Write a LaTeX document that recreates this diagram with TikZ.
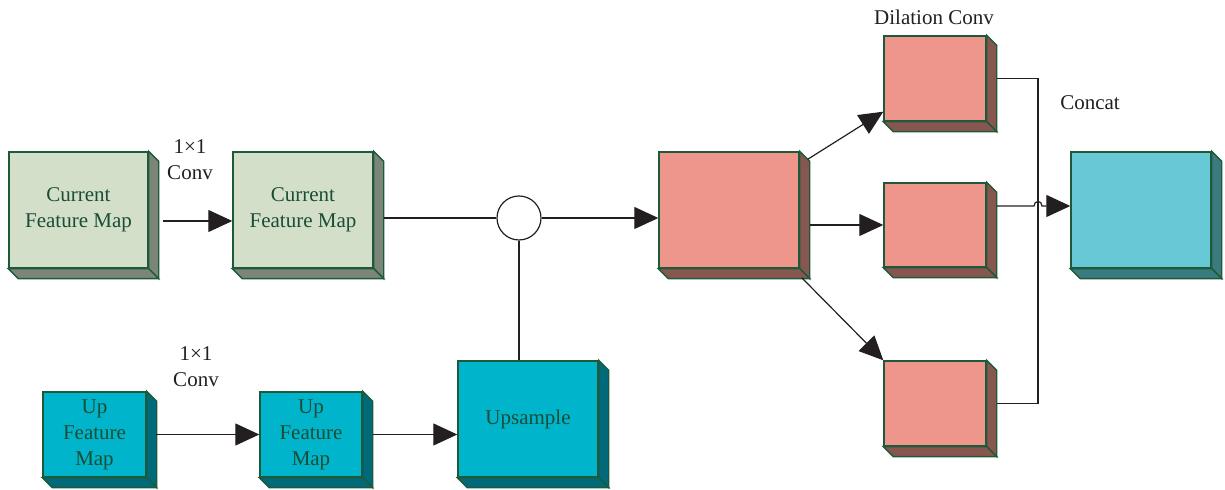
\documentclass[tikz,border=0pt]{standalone}
\usepackage{fontspec}
\setmainfont{Liberation Serif}
\usetikzlibrary{arrows.meta,calc,positioning}

\definecolor{edge}{HTML}{1E5A3A}
\definecolor{boxtext}{HTML}{1A4D35}
\definecolor{ink}{HTML}{231F20}
\definecolor{curfront}{HTML}{D3DFC9}
\definecolor{curside}{HTML}{7B8578}
\definecolor{upfront}{HTML}{00B5CB}
\definecolor{upside}{HTML}{00697A}
\definecolor{dilfront}{HTML}{EE958C}
\definecolor{dilside}{HTML}{87574F}
\definecolor{catfront}{HTML}{68C9D6}
\definecolor{catside}{HTML}{3A7B80}

\begin{document}
\begin{tikzpicture}[x=0.5pt, y=-0.5pt, >={Triangle[length=12pt,width=11pt]},
  font=\fontsize{10.5}{13}\selectfont,
  box/.style={draw=edge, line width=0.7pt, text=boxtext, align=center, inner sep=0pt},
  big/.style={minimum width=70pt, minimum height=58pt},
  small/.style={minimum width=51pt, minimum height=42.5pt},
  lbl/.style={text=ink, align=center, inner sep=0pt},
  wire/.style={draw=ink, line width=0.6pt}]
\newcommand{\cube}[1][]{\node [#1, box]}
\def\dd{10}
\newcommand{\sides}[2]{
  \filldraw [fill=#2, draw=edge, line width=0.7pt] (#1.north east) -- ++(\dd,\dd)
    -- ($(#1.south east)+(\dd,\dd)$) -- (#1.south east) -- cycle;
  \filldraw [fill=#2, draw=edge, line width=0.7pt] (#1.south west) -- (#1.south east)
    -- ++(\dd,\dd) -- ($(#1.south west)+(\dd,\dd)$) -- cycle;
}
\useasboundingbox (0,0) rectangle (1225,490);

% top row
\cube [big, fill=curfront, minimum width=69.5pt] (cur1) at (78.5,210) {Current\\Feature Map};
\cube [big, fill=curfront] (cur2) at (303,210) {Current\\Feature Map};
\node [circle, wire, fill=white, minimum size=22pt, inner sep=0pt] (sum) at (519,218) {};
\cube [big, fill=dilfront] (mid) at (729,210) {};

% bottom row
\cube [small, fill=upfront, minimum width=51.5pt] (up1) at (94.5,434.5) {Up\\Feature\\Map};
\cube [small, fill=upfront] (up2) at (311,434.5) {Up\\Feature\\Map};
\cube [big, fill=upfront] (ups) at (528,419) {Upsample};

% dilation branches
\cube [small, fill=dilfront] (dil1) at (935,78.5) {};
\cube [small, fill=dilfront, minimum height=42pt] (dil2) at (935,225) {};
\cube [small, fill=dilfront] (dil3) at (935,403.5) {};
\cube [big, fill=catfront] (cat) at (1141,210) {};

\sides{cur1}{curside}
\sides{cur2}{curside}
\sides{mid}{dilside}
\sides{up1}{upside}
\sides{up2}{upside}
\sides{ups}{upside}
\sides{dil1}{dilside}
\sides{dil2}{dilside}
\sides{dil3}{dilside}
\sides{cat}{catside}

% labels
\node [lbl] (conv1) at (190,160) {1×1\\Conv};
\node [lbl] (conv2) at (196,367) {1×1\\Conv};
\node [lbl] (dconv) at (934,17) {Dilation Conv};
\node [lbl] (ccat) at (1090,103) {Concat};

% connectors
\draw [wire, ->] ($(cur1.east)+(14,11)$) -- ($(cur2.west)+(0,11)$);
\draw [wire] (cur2.east |- sum) ++(10,0) -- (sum);
\draw [wire, ->] (sum) -- (sum -| mid.west);
\draw [wire] (sum) -- (sum |- ups.north);
\draw [wire, ->] ($(up1.east)+(9,0)$) -- (up2);
\draw [wire, ->] ($(up2.east)+(10,0)$) -- (up2.east -| ups.west);

\draw [wire, ->] ($(mid.north east)+(8,8)$) -- ($(dil1.south west)+(0,-10)$);
\draw [wire, ->] (mid.east |- dil2) ++(10,0) -- (dil2.west);
\draw [wire, ->] ($(mid.south east)+(2,9)$) -- (dil3.north west);

\coordinate (bus) at (1038,0);
\coordinate (in) at ($(cat.west)+(0,-4)$);
\draw [wire] ($(dil1.east)+(10,0)$) -- (dil1.east -| bus) -- (dil3.east -| bus) -- ($(dil3.east)+(10,0)$);
\draw [wire, ->] (dil2.east |- in) ++(10,0) -- ($(bus |- in)+(-4,0)$)
  .. controls +(0,-6) and +(0,-6) .. ($(bus |- in)+(4,0)$) -- (in);
\end{tikzpicture}
\end{document}
